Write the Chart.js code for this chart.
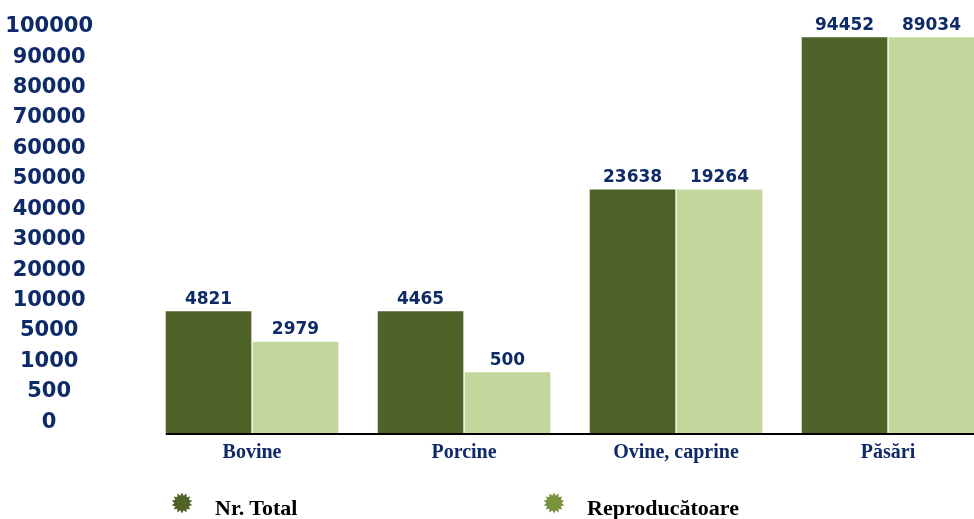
<!DOCTYPE html>
<html>
<head>
<meta charset="utf-8">
<script src="https://cdn.jsdelivr.net/npm/chart.js@4.4.1/dist/chart.umd.min.js"></script>
<style>
  html, body { margin: 0; padding: 0; overflow: hidden; background: #fff; }
  #wrap { position: relative; width: 1000px; height: 519px; }
  .legend-item {
    position: absolute; top: 495px; height: 22px; line-height: 22px;
    font: bold 22px "Liberation Serif", "Times New Roman", serif; color: #000;
    white-space: nowrap;
  }
  .legend-item svg { position: absolute; left: -44px; top: -3px; }
</style>
</head>
<body>
<div id="wrap">
  <canvas id="animalsChart"></canvas>
  <div id="legend"></div>
</div>
<script>
// Nr. Total vs Reproducatoare, by species
const categories = ["Bovine", "Porcine", "Ovine, caprine", "Păsări"];
const seriesNames = ["Nr. Total", "Reproducătoare"];
const totalValues = [4821, 4465, 23638, 94452];
const reproValues = [2979, 500, 19264, 89034];
const yTickLabels = ["0", "500", "1000", "5000", "10000", "20000", "30000", "40000",
  "50000", "60000", "70000", "80000", "90000", "100000"];
// the source axis is not proportional, so bar heights are kept as drawn (in axis steps)
const totalSteps = [4, 4, 8, 13];
const reproSteps = [3, 2, 8, 13];

const NAVY = "#0f2a68";
const seriesColors = ["#4f6228", "#c3d69b"];
const markerColors = ["#4f6228", "#77933c"];

// numbers above the bars
const valueLabels = {
  id: "valueLabels",
  afterDatasetsDraw(chart) {
    const ctx = chart.ctx;
    ctx.save();
    ctx.font = "bold 17px 'DejaVu Sans'";
    ctx.fillStyle = NAVY;
    ctx.textAlign = "center";
    ctx.textBaseline = "middle";
    chart.data.datasets.forEach((ds, di) => {
      chart.getDatasetMeta(di).data.forEach((bar, i) => {
        ctx.fillText(ds.shownValues[i], bar.x, bar.y - 12);
      });
    });
    ctx.restore();
  }
};

// black axis line starting at the first bar
const baseLine = {
  id: "baseLine",
  afterDatasetsDraw(chart) {
    const first = chart.getDatasetMeta(0).data[0];
    const { ctx, chartArea } = chart;
    ctx.save();
    ctx.strokeStyle = "#000";
    ctx.lineWidth = 2;
    ctx.beginPath();
    ctx.moveTo(first.x - first.width / 2, chartArea.bottom + 1);
    ctx.lineTo(chartArea.right, chartArea.bottom + 1);
    ctx.stroke();
    ctx.restore();
  }
};

const ctx = document.getElementById("animalsChart").getContext("2d");

new Chart(ctx, {
  type: "bar",
  data: {
    labels: categories,
    datasets: [
      { label: seriesNames[0], data: totalSteps, shownValues: totalValues, backgroundColor: seriesColors[0] },
      { label: seriesNames[1], data: reproSteps, shownValues: reproValues, backgroundColor: seriesColors[1] }
    ]
  },
  options: {
    responsive: true,
    maintainAspectRatio: false,
    animation: false,
    layout: { padding: { left: 3, right: 6, top: 0, bottom: 46 } },
    plugins: {
      legend: { display: false },
      tooltip: { enabled: false }
    },
    datasets: {
      bar: { categoryPercentage: 0.82, barPercentage: 0.985 }
    },
    scales: {
      x: {
        grid: { display: false, drawTicks: false },
        border: { display: false },
        ticks: {
          padding: 8,
          color: NAVY,
          font: { family: "'Liberation Serif'", weight: "bold", size: 20 }
        }
      },
      y: {
        min: 0,
        max: 13.8,
        grid: { display: false, drawTicks: false },
        border: { display: false },
        afterBuildTicks: scale => {
          scale.ticks = yTickLabels.map((t, i) => ({ value: i + 0.35 }));
        },
        afterFit: scale => {
          scale.width = 143;
          scale.paddingTop = 13;
          scale.paddingBottom = 13;
        },
        ticks: {
          padding: 53,
          crossAlign: "center",
          color: NAVY,
          font: { family: "'DejaVu Sans'", weight: "bold", size: 21 },
          callback: (value, index) => yTickLabels[index]
        }
      }
    }
  },
  plugins: [baseLine, valueLabels]
});

// legend with burst markers
function starPoints(n, ro, ri, c) {
  const pts = [];
  for (let k = 0; k < n * 2; k++) {
    const r = k % 2 === 0 ? ro : ri;
    const a = Math.PI * k / n - Math.PI / 2;
    pts.push((c + r * Math.cos(a)).toFixed(2) + "," + (c + r * Math.sin(a)).toFixed(2));
  }
  return pts.join(" ");
}

const legendLeft = [215, 587];
const legend = document.getElementById("legend");
seriesNames.forEach((name, i) => {
  const item = document.createElement("div");
  item.className = "legend-item";
  item.style.left = legendLeft[i] + "px";
  item.innerHTML =
    '<svg width="22" height="22" viewBox="0 0 22 22"><polygon points="' +
    starPoints(14, 10.5, 7.5, 11) + '" fill="' + markerColors[i] + '"/></svg>';
  item.appendChild(document.createTextNode(name));
  legend.appendChild(item);
});
</script>
</body>
</html>
